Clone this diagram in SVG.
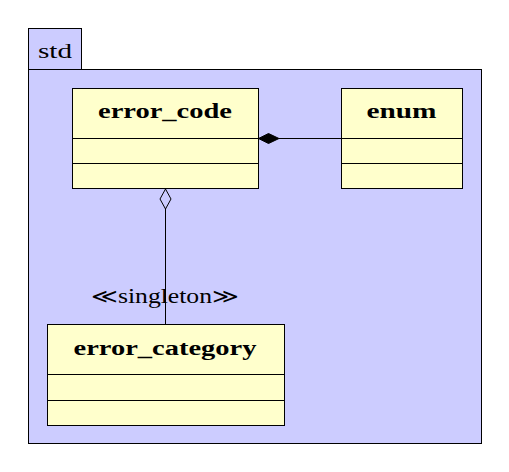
<svg xmlns="http://www.w3.org/2000/svg" width="509" height="472" viewBox="0 0 509 472">
<style>
.pkg{fill:#ccccff;stroke:#000;stroke-width:1}
.cls{fill:#ffffcc;stroke:#000;stroke-width:1}
.div{stroke:#000;stroke-width:1}
.t{font-family:"Liberation Serif","DejaVu Serif",serif;font-size:20px;fill:#000}
.b{font-weight:bold;text-anchor:middle}
.edge{stroke:#000;stroke-width:1;fill:none}
</style>
<g id="std">
<rect class="pkg" x="28.5" y="28.5" width="53" height="41"/>
<rect class="pkg" x="28.5" y="69.5" width="453" height="374"/>
<text class="t" x="38" y="58" textLength="34" lengthAdjust="spacingAndGlyphs">std</text>
</g>
<g id="connectors">
<path class="edge" d="M341,138.5 L279,138.5"/>
<path d="M258.5,138.5 L268.5,133.5 L279,138.5 L268.5,143.5 Z" fill="#000" stroke="#000" stroke-width="1"/>
<path class="edge" d="M165.5,324 L165.5,209"/>
<path d="M165.5,189 L171,199 L165.5,209 L160,199 Z" fill="#ccccff" stroke="#000" stroke-width="1"/>
<text class="t" x="165" y="303" text-anchor="middle" textLength="148" lengthAdjust="spacingAndGlyphs">≪singleton≫</text>
</g>
<g id="error_code">
<rect class="cls" x="72.5" y="88.5" width="186" height="100"/>
<line class="div" x1="72.5" y1="138.5" x2="258.5" y2="138.5"/>
<line class="div" x1="72.5" y1="163.5" x2="258.5" y2="163.5"/>
<text class="t b" x="165" y="118" textLength="134" lengthAdjust="spacingAndGlyphs">error_code</text>
</g>
<g id="enum">
<rect class="cls" x="341.5" y="88.5" width="121" height="100"/>
<line class="div" x1="341.5" y1="138.5" x2="462.5" y2="138.5"/>
<line class="div" x1="341.5" y1="163.5" x2="462.5" y2="163.5"/>
<text class="t b" x="401.5" y="118" textLength="70" lengthAdjust="spacingAndGlyphs">enum</text>
</g>
<g id="error_category">
<rect class="cls" x="47.5" y="324.5" width="237" height="101"/>
<line class="div" x1="47.5" y1="374.5" x2="284.5" y2="374.5"/>
<line class="div" x1="47.5" y1="400.5" x2="284.5" y2="400.5"/>
<text class="t b" x="165" y="355" textLength="183" lengthAdjust="spacingAndGlyphs">error_category</text>
</g>
</svg>
